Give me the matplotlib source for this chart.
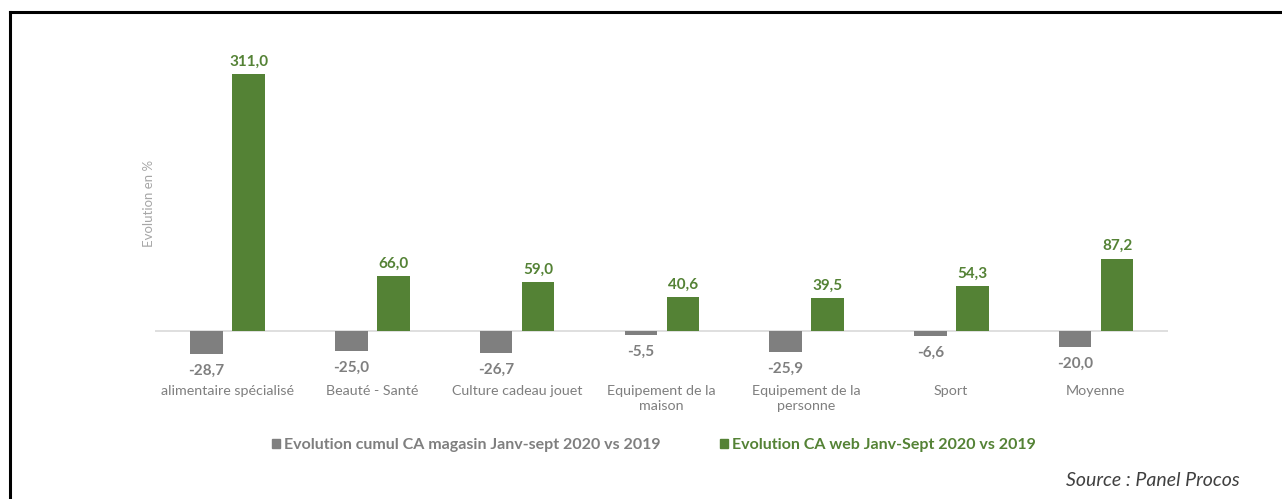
import numpy as np
import matplotlib
matplotlib.use("Agg")
import matplotlib.pyplot as plt
from matplotlib.lines import Line2D
from matplotlib.patches import Patch

# ── Data ──
categories = [
    "alimentaire spécialisé",
    "Beauté - Santé",
    "Culture cadeau jouet",
    "Equipement de la\nmaison",
    "Equipement de la\npersonne",
    "Sport",
    "Moyenne",
]
magasin = [-28.7, -25.0, -26.7, -5.5, -25.9, -6.6, -20.0]
web = [311.0, 66.0, 59.0, 40.6, 39.5, 54.3, 87.2]

label_magasin = "Evolution cumul CA magasin Janv-sept 2020 vs 2019"
label_web = "Evolution CA web Janv-Sept 2020 vs 2019"

GREY = "#7f7f7f"
GREEN = "#548235"
plt.rcParams["font.family"] = ["Lato", "DejaVu Sans"]

fmt = lambda v: f"{v:.1f}".replace(".", ",")

# ── Plot ──
fig = plt.figure(figsize=(12.82, 4.99), dpi=100)
ax = fig.add_axes([0.1209, 0.2545, 0.7902, 0.6613])

x = np.arange(len(categories))
w = 0.225
b1 = ax.bar(x - 0.143, magasin, w, color=GREY)
b2 = ax.bar(x + 0.148, web, w, color=GREEN)

for rect, v in zip(b1, magasin):
    ax.annotate(fmt(v), (rect.get_x() + rect.get_width() / 2, v),
                xytext=(0, -7), textcoords="offset points", ha="center", va="top",
                fontsize=11, fontweight="bold", color=GREY)
for rect, v in zip(b2, web):
    ax.annotate(fmt(v), (rect.get_x() + rect.get_width() / 2, v),
                xytext=(0, 4), textcoords="offset points", ha="center", va="bottom",
                fontsize=11, fontweight="bold", color=GREEN)

ax.set_xlim(-0.5, len(categories) - 0.5)
ax.set_ylim(-50, 350)
ax.axhline(0, color="#d9d9d9", lw=1.2, zorder=0)
for s in ax.spines.values():
    s.set_visible(False)
ax.set_yticks([])
ax.set_xticks(x)
ax.set_xticklabels(categories, fontsize=10.3, color=GREY, linespacing=1.3)
ax.tick_params(axis="x", length=0, pad=9)
ax.set_ylabel("Evolution en %", fontsize=9.5, color="#a6a6a6", labelpad=0)
ax.yaxis.set_label_coords(0.0, 0.51)

handles = [Patch(color=GREY), Patch(color=GREEN)]
leg = fig.legend(handles, [label_magasin, label_web], loc="center", ncol=2,
                 bbox_to_anchor=(0.51, 0.108), frameon=False,
                 handlelength=0.5, handleheight=0.5, handletextpad=0.25,
                 columnspacing=3.7, prop={"size": 11.5, "weight": "bold"})
for txt, c in zip(leg.get_texts(), [GREY, GREEN]):
    txt.set_color(c)

fig.text(0.967, 0.038, "Source : Panel Procos", ha="right", va="center",
         fontsize=14, style="italic", color="#404040")

# frame around the chart (top and left edges)
fig.add_artist(Line2D([0.0078, 0.0078], [0.0, 0.976], color="black", lw=2.2,
                      transform=fig.transFigure))
fig.add_artist(Line2D([0.0078, 1.0], [0.976, 0.976], color="black", lw=2.2,
                      transform=fig.transFigure))

fig.savefig("out.png", dpi=100)
